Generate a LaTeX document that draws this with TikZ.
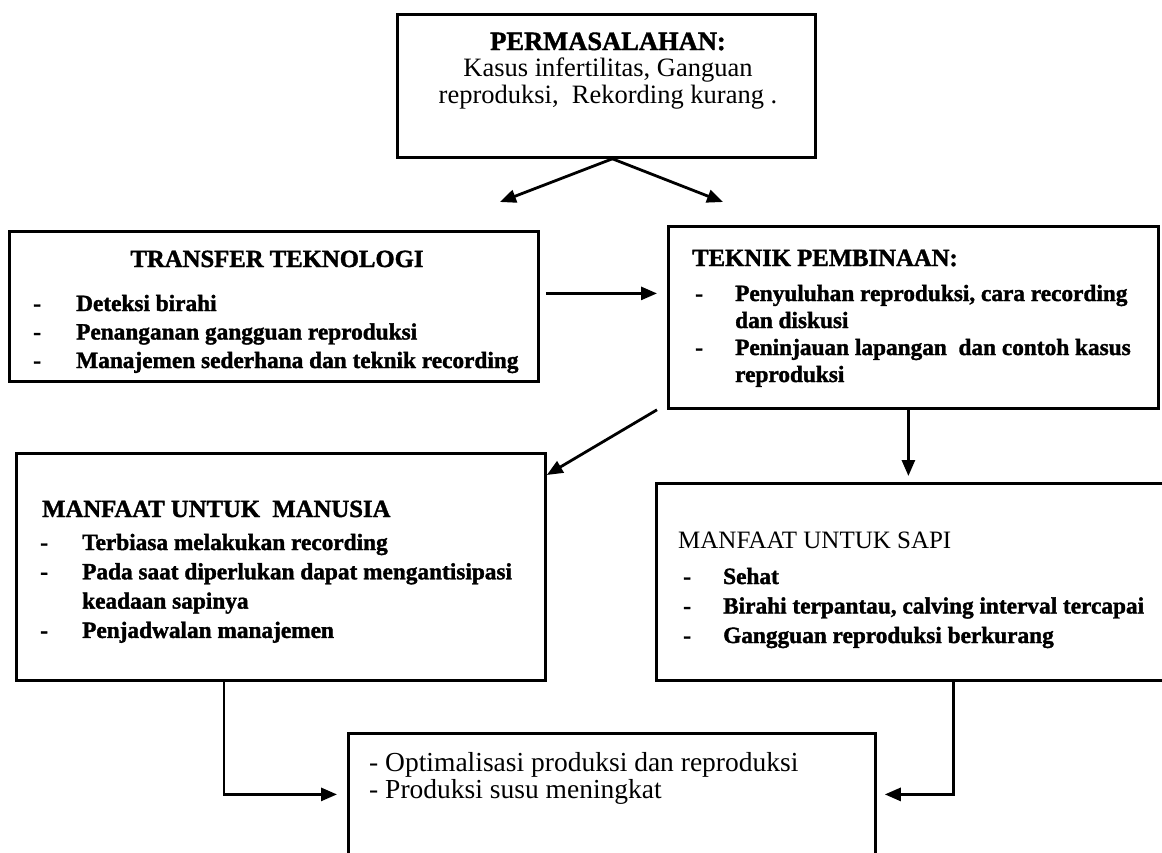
\documentclass[tikz,border=0pt]{standalone}
\usepackage{fontspec}
\setmainfont{Liberation Serif}[BoldFeatures={FakeBold=1.5}]
\usetikzlibrary{arrows.meta}
\tikzset{
	kotak/.style={draw, line width=2.8pt, inner sep=0pt, anchor=north west},
	panah/.style={line width=2.8pt, -{Triangle[length=16pt,width=13pt]}},
	judul/.style={inner sep=0pt, anchor=base west, font=\fontsize{24.7}{29}\selectfont\bfseries},
	isi/.style={inner sep=0pt, anchor=base west, font=\fontsize{23.3}{#1}\selectfont\bfseries},
	isi/.default=30
}

\begin{document}
\begin{tikzpicture}[x=1pt,y=-1pt]
			%%%%% START %%%%%
			\useasboundingbox (0,0) rectangle (1162,852);
			
			\node[kotak, minimum width=418pt, minimum height=143pt] (masalah) at (396,13) {};
			\node[kotak, minimum width=529pt, minimum height=150pt] (transfer) at (8,230) {};
			\node[kotak, minimum width=490pt, minimum height=182pt] (teknik) at (667,225) {};
			\node[kotak, minimum width=529pt, minimum height=227pt] (manusia) at (15,452) {};
			\node[kotak, minimum width=520pt, minimum height=197pt] (sapi) at (655,482) {};
			\node[kotak, minimum width=527pt, minimum height=122pt] (hasil) at (347,732) {};
			
			\node[inner sep=0pt, anchor=base, font=\fontsize{26.5}{26.5}\selectfont] (masalahteks) at (608,50) {\begin{tabular}[t]{@{}c@{}}\textbf{PERMASALAHAN:}\\Kasus infertilitas, Ganguan\\reproduksi,~ Rekording kurang .\end{tabular}};
			
			\node[judul, anchor=base] (judultransfer) at (277,267) {TRANSFER TEKNOLOGI};
			\node[isi=28.5] (isitransfer) at (33,311) {\begin{tabular}[t]{@{}p{43pt}@{}l@{}}
				- & Deteksi birahi\\
				- & Penanganan gangguan reproduksi\\
				- & Manajemen sederhana dan teknik recording\end{tabular}};
			
			\node[judul] (judulteknik) at (692,266) {TEKNIK PEMBINAAN:};
			\node[isi=27] (isiteknik) at (695,301) {\begin{tabular}[t]{@{}p{40pt}@{}l@{}}
				- & Penyuluhan reproduksi, cara recording\\
				& dan diskusi\\
				- & Peninjauan lapangan~ dan contoh kasus\\
				& reproduksi\end{tabular}};
			
			\node[judul] (judulmanusia) at (42,517) {MANFAAT UNTUK~ MANUSIA};
			\node[isi=29.3] (isimanusia) at (40,550) {\begin{tabular}[t]{@{}p{42pt}@{}l@{}}
				- & Terbiasa melakukan recording\\
				- & Pada saat diperlukan dapat mengantisipasi\\
				& keadaan sapinya\\
				- & Penjadwalan manajemen\end{tabular}};
			
			\node[judul, font=\fontsize{25}{29}\selectfont] (judulsapi) at (678,548) {MANFAAT UNTUK SAPI};
			\node[isi=29.5] (isisapi) at (683,584) {\begin{tabular}[t]{@{}p{40pt}@{}l@{}}
				- & Sehat\\
				- & Birahi terpantau, calving interval tercapai\\
				- & Gangguan reproduksi berkurang\end{tabular}};
			
			\node[inner sep=0pt, anchor=base west, font=\fontsize{27.5}{27.5}\selectfont] (isihasil) at (369,771) {\begin{tabular}[t]{@{}l@{}}
				- Optimalisasi produksi dan reproduksi\\
				- Produksi susu meningkat\end{tabular}};
			
			\coordinate (kiri) at (500,202);
			\coordinate (kanan) at (723,202);
			\coordinate (tengah) at ([yshift=13pt]transfer.east);
			
			\draw[panah] ([xshift=6pt]masalah.south) -- (kiri);
			\draw[panah] ([xshift=6pt]masalah.south) -- (kanan);
			\draw[panah, shorten <=6pt, shorten >=10pt] (tengah) -- (tengah -| teknik.west);
			\draw[panah] ([xshift=-10pt]teknik.south west) -- ([yshift=-23pt]manusia.north east);
			\draw[panah, shorten >=6pt] ([xshift=-5pt]teknik.south) -- ([xshift=-5pt]teknik.south |- sapi.north);
			\draw[panah, shorten >=10pt] ([xshift=-57pt]manusia.south) |- (hasil.west);
			\draw[panah, shorten >=8pt] ([xshift=37pt]sapi.south) |- (hasil.east);
			
			%%%%% END %%%%%
\end{tikzpicture}
\end{document}
